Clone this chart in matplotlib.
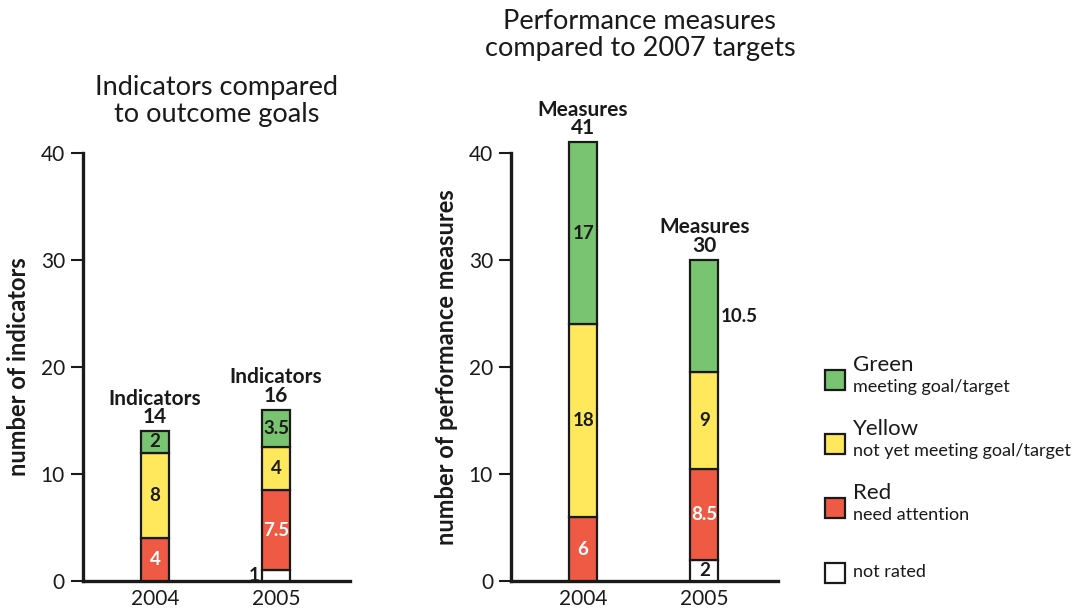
import matplotlib.pyplot as plt
from matplotlib.patches import Rectangle

plt.rcParams['font.family'] = ['Lato', 'DejaVu Sans']

years = ['2004', '2005']
categories = ['not rated', 'Red', 'Yellow', 'Green']
colors = {'not rated': '#ffffff', 'Red': '#ee5a44', 'Yellow': '#ffe85c', 'Green': '#79c470'}
label_colors = {'not rated': '#1a1a1a', 'Red': 'white', 'Yellow': '#1a1a1a', 'Green': '#1a1a1a'}

# indicators compared to outcome goals
ind_not_rated = [0, 1]
ind_red = [4, 7.5]
ind_yellow = [8, 4]
ind_green = [2, 3.5]
ind_totals = [14, 16]

# performance measures compared to 2007 targets
perf_not_rated = [0, 2]
perf_red = [6, 8.5]
perf_yellow = [18, 9]
perf_green = [17, 10.5]
perf_totals = [41, 30]

legend_titles = ['Green', 'Yellow', 'Red', '']
legend_subs = ['meeting goal/target', 'not yet meeting goal/target', 'need attention', 'not rated']

ink = '#1a1a1a'


def stacked(ax, series, totals, word, outside):
    x = range(len(years))
    bottom = [0] * len(years)
    for cat, vals in zip(categories, series):
        ax.bar(x, vals, bottom=bottom, width=0.235, color=colors[cat],
               edgecolor=ink, linewidth=1.6, clip_on=False, zorder=3)
        for i, v in enumerate(vals):
            if v == 0:
                continue
            mid = bottom[i] + v / 2
            if (cat, i) in outside:
                dx, ha = outside[(cat, i)]
                ax.text(i + dx, mid, f'{v:g}', ha=ha, va='center', fontsize=13.5,
                        fontweight='bold', color=ink)
            else:
                ax.text(i, mid, f'{v:g}', ha='center', va='center', fontsize=13.5,
                        fontweight='bold', color=label_colors[cat], zorder=4)
        bottom = [b + v for b, v in zip(bottom, vals)]
    for i, t in enumerate(totals):
        ax.text(i, t + 0.4, f'{word}\n{t}', ha='center', va='bottom', fontsize=15,
                fontweight='bold', color=ink, linespacing=0.9)

    ax.set_ylim(0, 40)
    ax.set_xlim(-0.595, 1.61)
    ax.set_xticks(list(x))
    ax.set_xticklabels(years, fontsize=15, color=ink)
    ax.set_yticks([0, 10, 20, 30, 40])
    ax.tick_params(axis='x', length=0, pad=6)
    ax.tick_params(axis='y', length=9, width=1.5, labelsize=15, colors=ink, pad=4)
    for s in ['top', 'right']:
        ax.spines[s].set_visible(False)
    for s in ['left', 'bottom']:
        ax.spines[s].set_linewidth(2.4)
        ax.spines[s].set_color(ink)


fig = plt.figure(figsize=(10.92, 6.13), dpi=100)

ax1 = fig.add_axes([0.076, 0.052, 0.2445, 0.6985])
stacked(ax1, [ind_not_rated, ind_red, ind_yellow, ind_green], ind_totals, 'Indicators',
        {('not rated', 1): (-0.14, 'right')})
ax1.set_ylabel('number of indicators', fontsize=17, fontweight='bold', color=ink, labelpad=8)
fig.text(0.198, 0.835, 'Indicators compared\nto outcome goals', ha='center', va='center',
         fontsize=19.5, color=ink, linespacing=1.1)

ax2 = fig.add_axes([0.468, 0.052, 0.2445, 0.6985])
stacked(ax2, [perf_not_rated, perf_red, perf_yellow, perf_green], perf_totals, 'Measures',
        {('Green', 1): (0.14, 'left')})
ax2.set_ylabel('number of performance measures', fontsize=17, fontweight='bold', color=ink,
               labelpad=8)
fig.text(0.586, 0.943, 'Performance measures\ncompared to 2007 targets', ha='center',
         va='center', fontsize=19.5, color=ink, linespacing=1.1)

# legend drawn by hand in figure coordinates
box_px = [390, 454, 518, 583]
for cat, title, sub, py in zip(['Green', 'Yellow', 'Red', 'not rated'], legend_titles,
                               legend_subs, box_px):
    y = 1 - py / 613
    fig.patches.append(Rectangle((0.7555, y), 0.0183, 0.0326, transform=fig.transFigure,
                                 facecolor=colors[cat], edgecolor=ink, linewidth=1.6))
    if title:
        fig.text(0.781, 1 - (py - 25) / 613, title, ha='left', va='center', fontsize=16,
                 color=ink)
        fig.text(0.781, 1 - (py - 3) / 613, sub, ha='left', va='center', fontsize=13,
                 color=ink)
    else:
        fig.text(0.781, 1 - (py - 11) / 613, sub, ha='left', va='center', fontsize=13,
                 color=ink)

fig.savefig('out.png', dpi=100)
